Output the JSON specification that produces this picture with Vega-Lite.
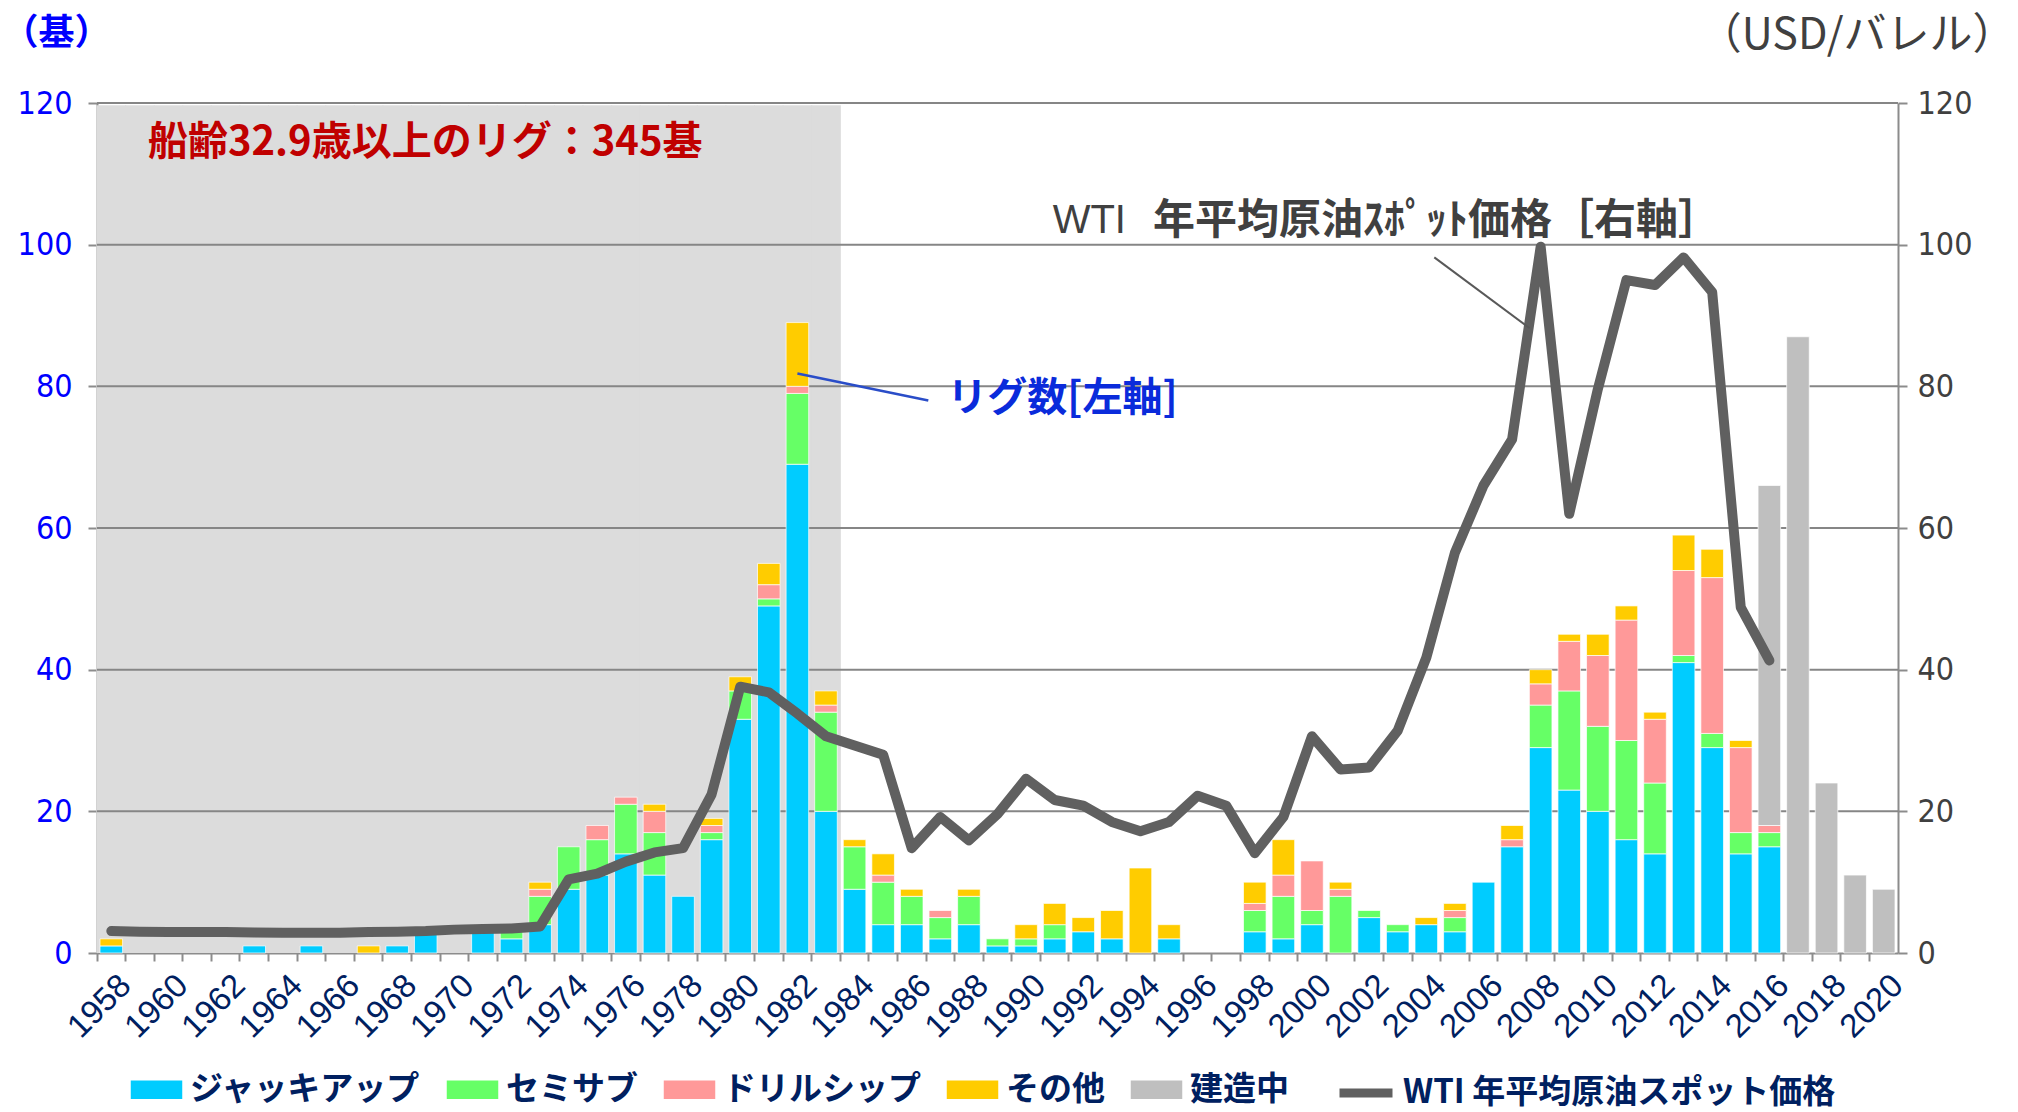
{
  "$schema": "https://vega.github.io/schema/vega-lite/v6.json",
  "width": 1801,
  "height": 850,
  "autosize": {"type": "none"},
  "padding": {"left": 97, "top": 103, "right": 120, "bottom": 159},
  "background": "white",
  "config": {"view": {"stroke": null}, "font": "Noto Sans CJK JP"},
  "datasets": {
    "rigs": [
      {"year": 1958, "type": "ジャッキアップ", "n": 1}, {"year": 1958, "type": "その他", "n": 1},
      {"year": 1963, "type": "ジャッキアップ", "n": 1},
      {"year": 1965, "type": "ジャッキアップ", "n": 1},
      {"year": 1967, "type": "その他", "n": 1},
      {"year": 1968, "type": "ジャッキアップ", "n": 1},
      {"year": 1969, "type": "ジャッキアップ", "n": 3},
      {"year": 1971, "type": "ジャッキアップ", "n": 3},
      {"year": 1972, "type": "ジャッキアップ", "n": 2}, {"year": 1972, "type": "セミサブ", "n": 1},
      {"year": 1973, "type": "ジャッキアップ", "n": 4}, {"year": 1973, "type": "セミサブ", "n": 4}, {"year": 1973, "type": "ドリルシップ", "n": 1}, {"year": 1973, "type": "その他", "n": 1},
      {"year": 1974, "type": "ジャッキアップ", "n": 9}, {"year": 1974, "type": "セミサブ", "n": 6},
      {"year": 1975, "type": "ジャッキアップ", "n": 11}, {"year": 1975, "type": "セミサブ", "n": 5}, {"year": 1975, "type": "ドリルシップ", "n": 2},
      {"year": 1976, "type": "ジャッキアップ", "n": 14}, {"year": 1976, "type": "セミサブ", "n": 7}, {"year": 1976, "type": "ドリルシップ", "n": 1},
      {"year": 1977, "type": "ジャッキアップ", "n": 11}, {"year": 1977, "type": "セミサブ", "n": 6}, {"year": 1977, "type": "ドリルシップ", "n": 3}, {"year": 1977, "type": "その他", "n": 1},
      {"year": 1978, "type": "ジャッキアップ", "n": 8},
      {"year": 1979, "type": "ジャッキアップ", "n": 16}, {"year": 1979, "type": "セミサブ", "n": 1}, {"year": 1979, "type": "ドリルシップ", "n": 1}, {"year": 1979, "type": "その他", "n": 1},
      {"year": 1980, "type": "ジャッキアップ", "n": 33}, {"year": 1980, "type": "セミサブ", "n": 4}, {"year": 1980, "type": "その他", "n": 2},
      {"year": 1981, "type": "ジャッキアップ", "n": 49}, {"year": 1981, "type": "セミサブ", "n": 1}, {"year": 1981, "type": "ドリルシップ", "n": 2}, {"year": 1981, "type": "その他", "n": 3},
      {"year": 1982, "type": "ジャッキアップ", "n": 69}, {"year": 1982, "type": "セミサブ", "n": 10}, {"year": 1982, "type": "ドリルシップ", "n": 1}, {"year": 1982, "type": "その他", "n": 9},
      {"year": 1983, "type": "ジャッキアップ", "n": 20}, {"year": 1983, "type": "セミサブ", "n": 14}, {"year": 1983, "type": "ドリルシップ", "n": 1}, {"year": 1983, "type": "その他", "n": 2},
      {"year": 1984, "type": "ジャッキアップ", "n": 9}, {"year": 1984, "type": "セミサブ", "n": 6}, {"year": 1984, "type": "その他", "n": 1},
      {"year": 1985, "type": "ジャッキアップ", "n": 4}, {"year": 1985, "type": "セミサブ", "n": 6}, {"year": 1985, "type": "ドリルシップ", "n": 1}, {"year": 1985, "type": "その他", "n": 3},
      {"year": 1986, "type": "ジャッキアップ", "n": 4}, {"year": 1986, "type": "セミサブ", "n": 4}, {"year": 1986, "type": "その他", "n": 1},
      {"year": 1987, "type": "ジャッキアップ", "n": 2}, {"year": 1987, "type": "セミサブ", "n": 3}, {"year": 1987, "type": "ドリルシップ", "n": 1},
      {"year": 1988, "type": "ジャッキアップ", "n": 4}, {"year": 1988, "type": "セミサブ", "n": 4}, {"year": 1988, "type": "その他", "n": 1},
      {"year": 1989, "type": "ジャッキアップ", "n": 1}, {"year": 1989, "type": "セミサブ", "n": 1},
      {"year": 1990, "type": "ジャッキアップ", "n": 1}, {"year": 1990, "type": "セミサブ", "n": 1}, {"year": 1990, "type": "その他", "n": 2},
      {"year": 1991, "type": "ジャッキアップ", "n": 2}, {"year": 1991, "type": "セミサブ", "n": 2}, {"year": 1991, "type": "その他", "n": 3},
      {"year": 1992, "type": "ジャッキアップ", "n": 3}, {"year": 1992, "type": "その他", "n": 2},
      {"year": 1993, "type": "ジャッキアップ", "n": 2}, {"year": 1993, "type": "その他", "n": 4},
      {"year": 1994, "type": "その他", "n": 12},
      {"year": 1995, "type": "ジャッキアップ", "n": 2}, {"year": 1995, "type": "その他", "n": 2},
      {"year": 1998, "type": "ジャッキアップ", "n": 3}, {"year": 1998, "type": "セミサブ", "n": 3}, {"year": 1998, "type": "ドリルシップ", "n": 1}, {"year": 1998, "type": "その他", "n": 3},
      {"year": 1999, "type": "ジャッキアップ", "n": 2}, {"year": 1999, "type": "セミサブ", "n": 6}, {"year": 1999, "type": "ドリルシップ", "n": 3}, {"year": 1999, "type": "その他", "n": 5},
      {"year": 2000, "type": "ジャッキアップ", "n": 4}, {"year": 2000, "type": "セミサブ", "n": 2}, {"year": 2000, "type": "ドリルシップ", "n": 7},
      {"year": 2001, "type": "セミサブ", "n": 8}, {"year": 2001, "type": "ドリルシップ", "n": 1}, {"year": 2001, "type": "その他", "n": 1},
      {"year": 2002, "type": "ジャッキアップ", "n": 5}, {"year": 2002, "type": "セミサブ", "n": 1},
      {"year": 2003, "type": "ジャッキアップ", "n": 3}, {"year": 2003, "type": "セミサブ", "n": 1},
      {"year": 2004, "type": "ジャッキアップ", "n": 4}, {"year": 2004, "type": "その他", "n": 1},
      {"year": 2005, "type": "ジャッキアップ", "n": 3}, {"year": 2005, "type": "セミサブ", "n": 2}, {"year": 2005, "type": "ドリルシップ", "n": 1}, {"year": 2005, "type": "その他", "n": 1},
      {"year": 2006, "type": "ジャッキアップ", "n": 10},
      {"year": 2007, "type": "ジャッキアップ", "n": 15}, {"year": 2007, "type": "ドリルシップ", "n": 1}, {"year": 2007, "type": "その他", "n": 2},
      {"year": 2008, "type": "ジャッキアップ", "n": 29}, {"year": 2008, "type": "セミサブ", "n": 6}, {"year": 2008, "type": "ドリルシップ", "n": 3}, {"year": 2008, "type": "その他", "n": 2},
      {"year": 2009, "type": "ジャッキアップ", "n": 23}, {"year": 2009, "type": "セミサブ", "n": 14}, {"year": 2009, "type": "ドリルシップ", "n": 7}, {"year": 2009, "type": "その他", "n": 1},
      {"year": 2010, "type": "ジャッキアップ", "n": 20}, {"year": 2010, "type": "セミサブ", "n": 12}, {"year": 2010, "type": "ドリルシップ", "n": 10}, {"year": 2010, "type": "その他", "n": 3},
      {"year": 2011, "type": "ジャッキアップ", "n": 16}, {"year": 2011, "type": "セミサブ", "n": 14}, {"year": 2011, "type": "ドリルシップ", "n": 17}, {"year": 2011, "type": "その他", "n": 2},
      {"year": 2012, "type": "ジャッキアップ", "n": 14}, {"year": 2012, "type": "セミサブ", "n": 10}, {"year": 2012, "type": "ドリルシップ", "n": 9}, {"year": 2012, "type": "その他", "n": 1},
      {"year": 2013, "type": "ジャッキアップ", "n": 41}, {"year": 2013, "type": "セミサブ", "n": 1}, {"year": 2013, "type": "ドリルシップ", "n": 12}, {"year": 2013, "type": "その他", "n": 5},
      {"year": 2014, "type": "ジャッキアップ", "n": 29}, {"year": 2014, "type": "セミサブ", "n": 2}, {"year": 2014, "type": "ドリルシップ", "n": 22}, {"year": 2014, "type": "その他", "n": 4},
      {"year": 2015, "type": "ジャッキアップ", "n": 14}, {"year": 2015, "type": "セミサブ", "n": 3}, {"year": 2015, "type": "ドリルシップ", "n": 12}, {"year": 2015, "type": "その他", "n": 1},
      {"year": 2016, "type": "ジャッキアップ", "n": 15}, {"year": 2016, "type": "セミサブ", "n": 2}, {"year": 2016, "type": "ドリルシップ", "n": 1}, {"year": 2016, "type": "建造中", "n": 48},
      {"year": 2017, "type": "建造中", "n": 87},
      {"year": 2018, "type": "建造中", "n": 24},
      {"year": 2019, "type": "建造中", "n": 11},
      {"year": 2020, "type": "建造中", "n": 9}
    ],
    "types": [
      {"type": "ジャッキアップ", "k": 1}, {"type": "セミサブ", "k": 2}, {"type": "ドリルシップ", "k": 3},
      {"type": "その他", "k": 4}, {"type": "建造中", "k": 5}
    ],
    "wti": [
      {"year": 1958, "p": 3.1}, {"year": 1959, "p": 3.0}, {"year": 1960, "p": 2.95}, {"year": 1961, "p": 2.95},
      {"year": 1962, "p": 2.95}, {"year": 1963, "p": 2.9}, {"year": 1964, "p": 2.85}, {"year": 1965, "p": 2.85},
      {"year": 1966, "p": 2.85}, {"year": 1967, "p": 2.95}, {"year": 1968, "p": 3.0}, {"year": 1969, "p": 3.1},
      {"year": 1970, "p": 3.3}, {"year": 1971, "p": 3.4}, {"year": 1972, "p": 3.45}, {"year": 1973, "p": 3.75},
      {"year": 1974, "p": 10.4}, {"year": 1975, "p": 11.2}, {"year": 1976, "p": 12.9}, {"year": 1977, "p": 14.2},
      {"year": 1978, "p": 14.8}, {"year": 1979, "p": 22.4}, {"year": 1980, "p": 37.6}, {"year": 1981, "p": 36.8},
      {"year": 1982, "p": 33.8}, {"year": 1983, "p": 30.6}, {"year": 1984, "p": 29.3}, {"year": 1985, "p": 28.0},
      {"year": 1986, "p": 14.8}, {"year": 1987, "p": 19.2}, {"year": 1988, "p": 15.9}, {"year": 1989, "p": 19.6},
      {"year": 1990, "p": 24.6}, {"year": 1991, "p": 21.6}, {"year": 1992, "p": 20.8}, {"year": 1993, "p": 18.5},
      {"year": 1994, "p": 17.2}, {"year": 1995, "p": 18.5}, {"year": 1996, "p": 22.2}, {"year": 1997, "p": 20.8},
      {"year": 1998, "p": 14.1}, {"year": 1999, "p": 19.2}, {"year": 2000, "p": 30.6}, {"year": 2001, "p": 25.9},
      {"year": 2002, "p": 26.2}, {"year": 2003, "p": 31.4}, {"year": 2004, "p": 41.7}, {"year": 2005, "p": 56.5},
      {"year": 2006, "p": 66.0}, {"year": 2007, "p": 72.5}, {"year": 2008, "p": 99.7}, {"year": 2009, "p": 62.0},
      {"year": 2010, "p": 79.6}, {"year": 2011, "p": 95.0}, {"year": 2012, "p": 94.3}, {"year": 2013, "p": 98.2},
      {"year": 2014, "p": 93.3}, {"year": 2015, "p": 48.8}, {"year": 2016, "p": 41.3}
    ],
    "aged": [
      {"year": 1958}, {"year": 1959}, {"year": 1960}, {"year": 1961}, {"year": 1962}, {"year": 1963},
      {"year": 1964}, {"year": 1965}, {"year": 1966}, {"year": 1967}, {"year": 1968}, {"year": 1969},
      {"year": 1970}, {"year": 1971}, {"year": 1972}, {"year": 1973}, {"year": 1974}, {"year": 1975},
      {"year": 1976}, {"year": 1977}, {"year": 1978}, {"year": 1979}, {"year": 1980}, {"year": 1981},
      {"year": 1982}, {"year": 1983}
    ],
    "grid": [{"v": 20}, {"v": 40}, {"v": 60}, {"v": 80}, {"v": 100}, {"v": 120}]
  },
  "layer": [
    {
      "layer": [
        {
          "data": {"name": "aged"},
          "mark": {"type": "bar", "color": "#DCDCDC", "width": {"band": 1.04}},
          "encoding": {
            "x": {
              "field": "year", "type": "ordinal",
              "scale": {"type": "band", "paddingInner": 0, "paddingOuter": 0},
              "axis": {
                "title": null, "bandPosition": 0, "labelOffset": 14.3, "labelAngle": -45,
                "labelAlign": "right", "labelBaseline": "middle",
                "labelExpr": "datum.value % 2 == 0 ? datum.label : ''",
                "labelOverlap": false, "labelBound": false, "labelFlush": false,
                "labelFont": "Liberation Sans", "labelFontSize": 33, "labelColor": "#002060",
                "labelPadding": 19, "tickSize": 8, "tickColor": "#8C8C8C", "tickWidth": 2,
                "domainColor": "#8C8C8C", "domainWidth": 2, "grid": false
              }
            },
            "y": {
              "datum": 119.7, "type": "quantitative",
              "scale": {"domain": [0, 120], "nice": false},
              "axis": {
                "orient": "left", "values": [0, 20, 40, 60, 80, 100, 120], "grid": false,
                "domain": true, "domainColor": "#8C8C8C", "domainWidth": 2,
                "tickSize": 9, "tickColor": "#8C8C8C", "tickWidth": 2,
                "labelFont": "Liberation Sans Narrow, DejaVu Sans Condensed, Liberation Sans",
                "labelFontSize": 32, "labelColor": "#0000FF", "labelPadding": 16,
                "title": "（基）", "titleAngle": 0, "titleX": -41, "titleY": -70,
                "titleAlign": "center", "titleBaseline": "middle",
                "titleFont": "Noto Sans CJK JP", "titleFontSize": 36, "titleFontWeight": "bold", "titleColor": "#0000FF"
              }
            },
            "y2": {"datum": 0}
          }
        },
        {
          "data": {"name": "grid"},
          "mark": {"type": "rule", "color": "#868686", "strokeWidth": 2},
          "encoding": {
            "y": {"field": "v", "type": "quantitative"}
          }
        },
        {
          "data": {"name": "rigs"},
          "transform": [
            {"lookup": "type", "from": {"data": {"name": "types"}, "key": "type", "fields": ["k"]}}
          ],
          "mark": {"type": "bar", "width": {"band": 0.79}, "stroke": "white", "strokeWidth": 0.7},
          "encoding": {
            "x": {"field": "year", "type": "ordinal", "scale": {"type": "band", "paddingInner": 0, "paddingOuter": 0}},
            "y": {"field": "n", "type": "quantitative", "stack": "zero"},
            "order": {"field": "k", "type": "quantitative", "sort": "ascending"},
            "color": {
              "field": "type", "type": "nominal",
              "scale": {
                "domain": ["ジャッキアップ", "セミサブ", "ドリルシップ", "その他", "建造中"],
                "range": ["#00CCFF", "#66FF66", "#FF9999", "#FFCC00", "#BFBFBF"]
              },
              "legend": {
                "title": null, "orient": "none", "legendX": 32, "legendY": 959,
                "direction": "horizontal", "columns": 5,
                "labelFont": "Noto Sans CJK JP", "labelFontSize": 33, "labelFontWeight": "bold",
                "labelColor": "#002060", "labelLimit": 800, "labelOffset": 6,
                "symbolType": "M-1,-0.38H1V0.38H-1Z",
                "symbolSize": 2809, "columnPadding": 22, "padding": 0
              }
            }
          }
        },
        {
          "data": {"values": [{"year": 1982, "v": 81.8, "year2": 1987, "v2": 78.0}]},
          "mark": {"type": "rule", "color": "#2A4DC8", "strokeWidth": 2.5, "x2Offset": -12},
          "encoding": {
            "x": {"field": "year", "type": "ordinal", "bandPosition": 0.5},
            "x2": {"field": "year2"},
            "y": {"field": "v", "type": "quantitative"},
            "y2": {"field": "v2"}
          }
        },
        {
          "data": {"values": [{"year": 1987, "v": 78.2, "t": "リグ数[左軸]"}]},
          "mark": {"type": "text", "align": "left", "baseline": "middle", "dx": 7, "font": "Noto Sans CJK JP", "fontSize": 40, "fontWeight": "bold", "color": "#0A2BDB"},
          "encoding": {
            "x": {"field": "year", "type": "ordinal", "bandPosition": 0.5},
            "y": {"field": "v", "type": "quantitative"},
            "text": {"field": "t"}
          }
        },
        {
          "data": {"values": [{"year": 1959, "v": 114.4, "t": "船齢32.9歳以上のリグ：345基"}]},
          "mark": {"type": "text", "align": "left", "baseline": "middle", "dx": 8, "font": "Noto Sans CJK JP", "fontSize": 40, "fontWeight": "bold", "color": "#C00000"},
          "encoding": {
            "x": {"field": "year", "type": "ordinal", "bandPosition": 0.5},
            "y": {"field": "v", "type": "quantitative"},
            "text": {"field": "t"}
          }
        }
      ]
    },
    {
      "layer": [
        {
          "data": {"name": "wti"},
          "mark": {"type": "line", "strokeWidth": 10, "strokeCap": "round", "strokeJoin": "round"},
          "encoding": {
            "x": {"field": "year", "type": "ordinal", "bandPosition": 0.5, "scale": {"type": "band", "paddingInner": 0, "paddingOuter": 0}},
            "y": {
              "field": "p", "type": "quantitative",
              "scale": {"domain": [0, 120], "nice": false},
              "axis": {
                "orient": "right", "values": [0, 20, 40, 60, 80, 100, 120], "grid": false,
                "domain": true, "domainColor": "#8C8C8C", "domainWidth": 2,
                "tickSize": 9, "tickColor": "#8C8C8C", "tickWidth": 2,
                "labelFont": "Liberation Sans Narrow, DejaVu Sans Condensed, Liberation Sans",
                "labelFontSize": 32, "labelColor": "#404040", "labelPadding": 10,
                "title": "（USD/バレル）", "titleAngle": 0, "titleX": 117, "titleY": -68,
                "titleAlign": "right", "titleBaseline": "middle",
                "titleFont": "Noto Sans CJK JP", "titleFontSize": 43, "titleFontWeight": "normal", "titleColor": "#404040"
              }
            },
            "color": {
              "datum": "WTI 年平均原油スポット価格", "type": "nominal",
              "scale": {"domain": ["WTI 年平均原油スポット価格"], "range": ["#606060"]},
              "legend": {
                "title": null, "orient": "none", "legendX": 1238, "legendY": 959,
                "direction": "horizontal",
                "labelFont": "Noto Sans CJK JP", "labelFontSize": 33, "labelFontWeight": "bold",
                "labelColor": "#002060", "labelLimit": 800, "labelOffset": 6,
                "symbolType": "stroke", "symbolSize": 2809, "symbolStrokeWidth": 9,
                "padding": 0
              }
            }
          }
        },
        {
          "data": {"values": [{"year": 2004, "v": 98.2, "year2": 2008, "v2": 88.2}]},
          "mark": {"type": "rule", "color": "#595959", "strokeWidth": 2, "xOffset": 8, "x2Offset": -11},
          "encoding": {
            "x": {"field": "year", "type": "ordinal", "bandPosition": 0.5},
            "x2": {"field": "year2"},
            "y": {"field": "v", "type": "quantitative"},
            "y2": {"field": "v2"}
          }
        },
        {
          "data": {"values": [{"year": 1991, "v": 103.4, "t": "WTI"}]},
          "mark": {"type": "text", "align": "left", "baseline": "middle", "dx": -2, "font": "Liberation Sans Narrow, Liberation Sans", "fontSize": 40, "color": "#404040"},
          "encoding": {
            "x": {"field": "year", "type": "ordinal", "bandPosition": 0.5},
            "y": {"field": "v", "type": "quantitative"},
            "text": {"field": "t"}
          }
        },
        {
          "data": {"values": [{"year": 1995, "v": 103.4, "t": "年平均原油ｽﾎﾟｯﾄ価格［右軸］"}]},
          "mark": {"type": "text", "align": "left", "baseline": "middle", "dx": -16, "font": "Noto Sans CJK JP", "fontSize": 42, "fontWeight": "bold", "color": "#404040"},
          "encoding": {
            "x": {"field": "year", "type": "ordinal", "bandPosition": 0.5},
            "y": {"field": "v", "type": "quantitative"},
            "text": {"field": "t"}
          }
        }
      ]
    }
  ],
  "resolve": {"scale": {"y": "independent", "color": "independent"}}
}
